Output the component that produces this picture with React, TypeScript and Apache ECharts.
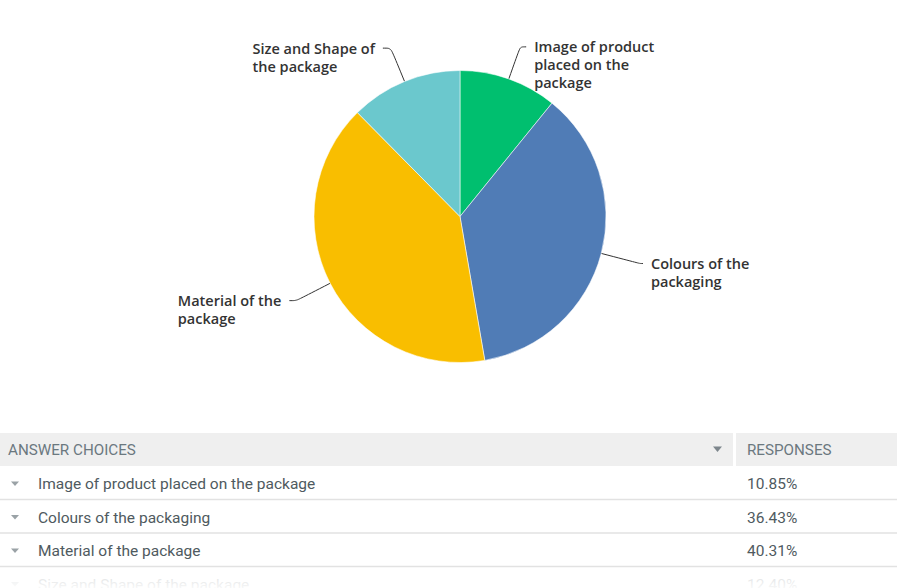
import React, { useEffect, useRef } from "react";
import * as echarts from "echarts";

// ---- data ----
const categories = [
  "Image of product placed on the package",
  "Colours of the packaging",
  "Material of the package",
  "Size and Shape of the package",
];
const responses = [10.85, 36.43, 40.31, 12.4];
const responseLabels = ["10.85%", "36.43%", "40.31%", "12.40%"];
const pieLabels = [
  ["Image of product", "placed on the", "package"],
  ["Colours of the", "packaging"],
  ["Material of the", "package"],
  ["Size and Shape of", "the package"],
];
const tableHeaders = ["ANSWER CHOICES", "RESPONSES"];

// ---- styling / layout ----
const sliceColors = ["#00bf6f", "#507cb6", "#f9be00", "#6bc8cd"];
const lineLen1 = [34, 40, 38, 36];
const lineLen2 = [6, 3, 7, 8];
const LABEL_LH = 18;
const W = 897;
const H = 588;
const HEADER_TOP = 433;
const HEADER_H = 33;
const ROW_H = 33.5;
const DIVIDER_X = 733;
const RESP_X = 747;
const TABLE_FONT = "Roboto";

function buildGraphic() {
  const g: any[] = [];
  const hy = HEADER_TOP + HEADER_H / 2;
  g.push({ type: "rect", shape: { x: 0, y: HEADER_TOP, width: DIVIDER_X, height: HEADER_H }, style: { fill: "#efefef" } });
  g.push({ type: "rect", shape: { x: DIVIDER_X + 3, y: HEADER_TOP, width: W - DIVIDER_X - 3, height: HEADER_H }, style: { fill: "#efefef" } });
  g.push({ type: "text", x: 8, y: hy, style: { text: tableHeaders[0], fontSize: 15.2, fontFamily: TABLE_FONT, fill: "#6b787f", verticalAlign: "middle" } });
  g.push({ type: "polygon", shape: { points: [[713, hy - 3], [722, hy - 3], [717.5, hy + 2.5]] }, style: { fill: "#7d868c" } });
  g.push({ type: "text", x: RESP_X, y: hy, style: { text: tableHeaders[1], fontSize: 15.2, fontFamily: TABLE_FONT, fill: "#6b787f", verticalAlign: "middle" } });
  const rowsTop = HEADER_TOP + HEADER_H;
  categories.forEach((c, i) => {
    const cy = rowsTop + ROW_H * i + 18;
    g.push({ type: "polygon", shape: { points: [[11, cy - 2.5], [19, cy - 2.5], [15, cy + 2]] }, style: { fill: "#9aa2a6" } });
    g.push({ type: "text", x: 38, y: cy, style: { text: c, fontSize: 15.5, fontFamily: TABLE_FONT, fill: "#4f5a60", verticalAlign: "middle" } });
    g.push({ type: "text", x: RESP_X, y: cy, style: { text: responseLabels[i], fontSize: 15.5, fontFamily: TABLE_FONT, fill: "#4f5a60", verticalAlign: "middle" } });
    const ly = rowsTop + ROW_H * (i + 1);
    if (ly < H) {
      g.push({ type: "line", shape: { x1: 0, y1: ly, x2: W, y2: ly }, style: { stroke: "#e2e2e2", lineWidth: 1.5 } });
    }
  });
  g.push({
    type: "rect",
    z: 100,
    shape: { x: 0, y: 568, width: W, height: H - 568 },
    style: {
      fill: new echarts.graphic.LinearGradient(0, 0, 0, 1, [
        { offset: 0, color: "rgba(255,255,255,0.75)" },
        { offset: 1, color: "rgba(255,255,255,0.95)" },
      ]),
    },
  });
  return g;
}

export default function App() {
  const ref = useRef<HTMLDivElement>(null);
  useEffect(() => {
    if (!ref.current) return;
    const chart = echarts.init(ref.current, undefined, { renderer: "svg" });
    const data = categories.map((name, i) => ({
      name,
      value: responses[i],
      itemStyle: { color: sliceColors[i] },
      labelLine: { length: lineLen1[i], length2: lineLen2[i] },
      label: { padding: [(pieLabels[i].length - 1) * LABEL_LH, 0, 0, 0] },
    }));
    chart.setOption({
      animation: false,
      backgroundColor: "#ffffff",
      series: [
        {
          type: "pie",
          center: [460, 216.5],
          radius: 146,
          startAngle: 90,
          clockwise: true,
          data,
          itemStyle: { borderColor: "rgba(255,255,255,0.55)", borderWidth: 1 },
          label: {
            show: true,
            position: "outside",
            distanceToLabelLine: 8,
            formatter: (p: any) => pieLabels[p.dataIndex].map((s) => `{a|${s}}`).join("\n"),
            rich: {
              a: { align: "left", fontSize: 14.5, fontWeight: 600, fontFamily: "Open Sans", color: "#333333", lineHeight: LABEL_LH },
            },
          },
          labelLine: { smooth: 0.3, lineStyle: { color: "#333333", width: 1 } },
          emphasis: { disabled: true },
        },
      ],
      graphic: buildGraphic(),
    });
    return () => chart.dispose();
  }, []);
  return <div ref={ref} style={{ position: "fixed", left: 0, top: 0, width: W, height: H, background: "#fff" }} />;
}
